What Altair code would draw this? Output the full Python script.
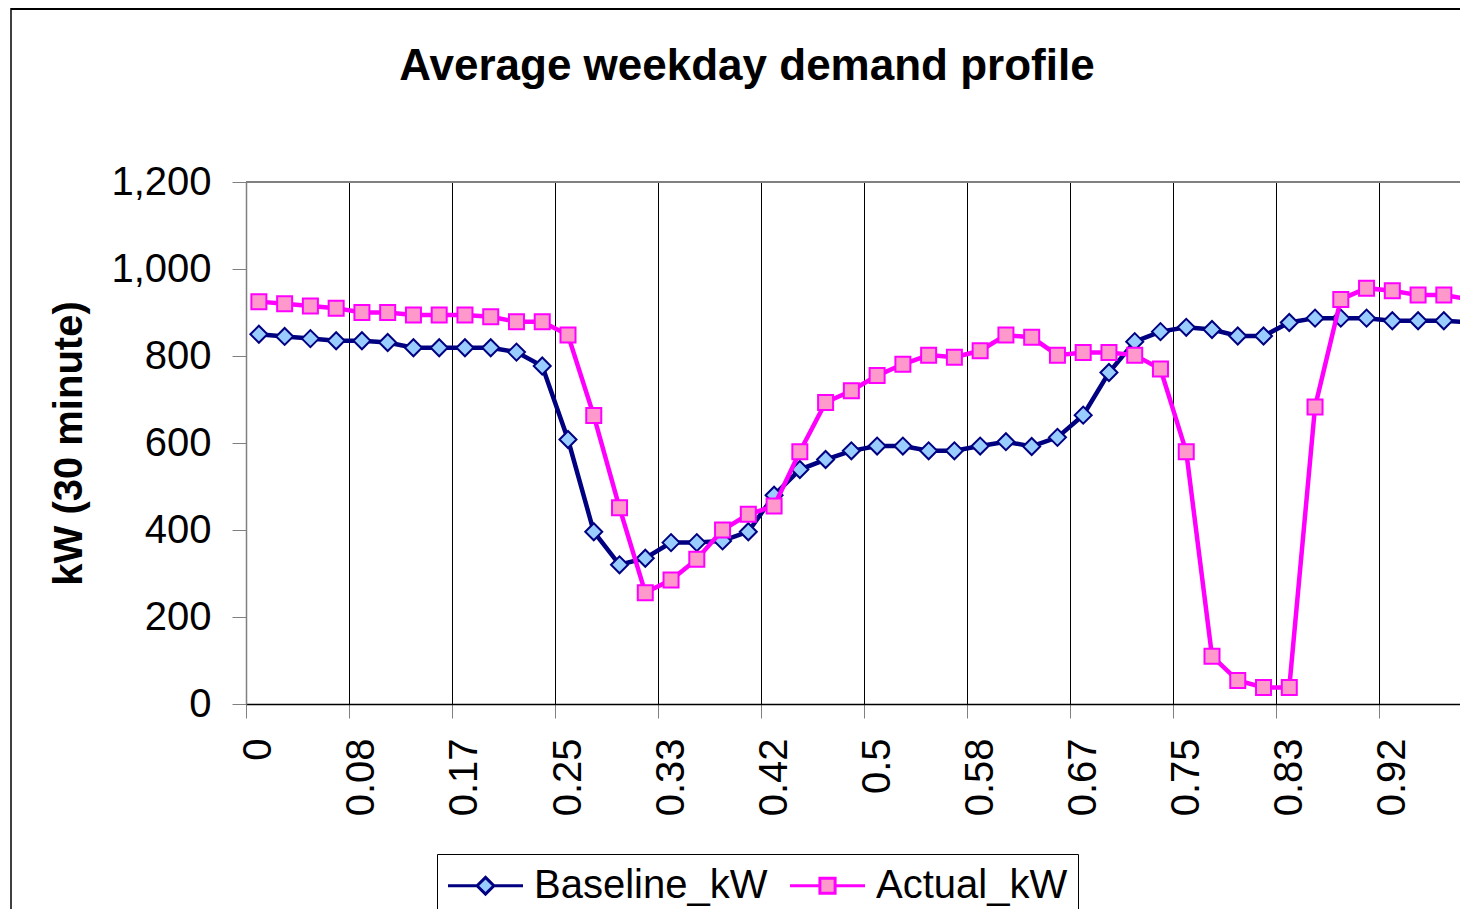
import altair as alt
import pandas as pd

FONT = "Liberation Sans"
TITLE = "Average weekday demand profile"
Y_TITLE = "kW (30 minute)"
SERIES = ["Baseline_kW", "Actual_kW"]
TICK_LABELS = ["0", "0.08", "0.17", "0.25", "0.33", "0.42", "0.5", "0.58",
               "0.67", "0.75", "0.83", "0.92"]
Y_TICKS = [0, 200, 400, 600, 800, 1000, 1200]

BASELINE = [850, 845, 840, 835, 835, 831, 819, 819, 819, 819, 809, 777,
            608, 396, 320, 335, 371, 371, 375, 396, 480, 539, 562, 582,
            593, 593, 582, 582, 593, 603, 592, 613, 664, 762, 833, 856,
            866, 861, 846, 846, 877, 887, 887, 887, 881, 881, 881, 877]
ACTUAL = [925, 920, 915, 910, 900, 900, 894, 894, 894, 890, 879, 879,
          848, 663, 451, 256, 285, 333, 400, 436, 455, 580, 693, 720,
          755, 781, 802, 797, 812, 848, 843, 802, 808, 808, 802, 770,
          580, 110, 54, 38, 38, 683, 930, 956, 950, 940, 940, 930]

NAVY, LIGHTBLUE = "#000080", "#99CCFF"
MAGENTA, PINK = "#FF00FF", "#FF99CC"

rows = []
for name, vals in zip(SERIES, [BASELINE, ACTUAL]):
    for i, v in enumerate(vals):
        rows.append({"slot": i, "kW": v, "series": name})
df = pd.DataFrame(rows)

W, H = 1214, 522
XMAX = W / 25.76

label_expr = "[" + ",".join("'%s'" % t for t in TICK_LABELS) + "][round(datum.value/4)]"

x_axis = alt.Axis(values=[4 * k for k in range(len(TICK_LABELS))], title=None,
                  grid=True, gridColor="#000000", gridWidth=1,
                  ticks=True, tickSize=14, tickColor="#808080",
                  domainColor="#000000", domainWidth=1.5,
                  labelAngle=-90, labelOffset=12.9, labelPadding=20,
                  labelFontSize=40, labelFont=FONT, labelColor="black",
                  labelFlush=False, labelOverlap=False, labelExpr=label_expr)
y_axis = alt.Axis(values=Y_TICKS, format=",d", grid=False,
                  ticks=True, tickSize=14, tickColor="#808080",
                  domainColor="#808080", domainWidth=1.5,
                  labelFontSize=40, labelFont=FONT, labelColor="black", labelPadding=21,
                  title=Y_TITLE, titleFontSize=40, titleFont=FONT, titleFontWeight="bold",
                  titleColor="black", titlePadding=21)

x_enc = alt.X("pos:Q", scale=alt.Scale(domain=[0, XMAX], nice=False, zero=False), axis=x_axis)
y_enc = alt.Y("kW:Q", scale=alt.Scale(domain=[0, 1200], nice=False), axis=y_axis)

# legend symbols: line + marker
DIA_PATH = "M-1.875,0L-0.42,0M0,-0.42L0.42,0L0,0.42L-0.42,0ZM0.42,0L1.875,0"
SQ_PATH = "M-1.875,0L-0.38,0M-0.38,-0.38L0.38,-0.38L0.38,0.38L-0.38,0.38ZM0.38,0L1.875,0"

legend = alt.Legend(
    orient="none", legendX=191, legendY=672, direction="horizontal", columns=2,
    title=None, labelFont=FONT, labelFontSize=40, labelColor="black", labelLimit=600,
    symbolSize=1600, symbolStrokeWidth=3, symbolOffset=17, labelOffset=27,
    symbolOpacity=1, columnPadding=16, padding=10, strokeColor="black", fillColor="white",
)

base = alt.Chart(df).transform_calculate(pos="datum.slot + 0.5")

def series_layers(name, shape, size, fill, stroke):
    sub = base.transform_filter(alt.datum.series == name)
    line = sub.mark_line(strokeWidth=4.5, clip=True, color=stroke).encode(x=x_enc, y=y_enc)
    pts = sub.mark_point(shape=shape, size=size, filled=True, fill=fill, stroke=stroke,
                         strokeWidth=2, opacity=1, clip=True).encode(x=x_enc, y=y_enc)
    return [line, pts]

legend_layer = base.mark_point(opacity=0, clip=True).encode(
    x=x_enc, y=y_enc,
    shape=alt.Shape("series:N", scale=alt.Scale(domain=SERIES, range=[DIA_PATH, SQ_PATH]), legend=legend),
    fill=alt.Fill("series:N", scale=alt.Scale(domain=SERIES, range=[LIGHTBLUE, PINK]), legend=legend),
    stroke=alt.Stroke("series:N", scale=alt.Scale(domain=SERIES, range=[NAVY, MAGENTA]), legend=legend),
)

deco = alt.Chart(pd.DataFrame({"t": [TITLE]}))
title = deco.mark_text(align="center", baseline="alphabetic", fontSize=44,
                       fontWeight="bold", font=FONT, color="black").encode(
    x=alt.value(501), y=alt.value(-102), text="t:N")
border_left = deco.mark_rule(color="black", strokeWidth=1.5).encode(
    x=alt.value(-235), y=alt.value(-174), y2=alt.value(740))
border_top = deco.mark_rule(color="black", strokeWidth=2).encode(
    x=alt.value(-235), x2=alt.value(W), y=alt.value(-173))
plot_top = deco.mark_rule(color="#808080", strokeWidth=2).encode(
    x=alt.value(0), x2=alt.value(W), y=alt.value(0))

layers = (series_layers("Baseline_kW", "diamond", 289, LIGHTBLUE, NAVY)
          + series_layers("Actual_kW", "square", 225, PINK, MAGENTA))

chart = alt.layer(plot_top, legend_layer, *layers, title, border_left, border_top).properties(
    width=W, height=H,
    padding={"left": 238, "top": 174, "right": 0, "bottom": 205},
    autosize=alt.AutoSizeParams(type="none"),
    background="white",
).configure_view(stroke=None)

chart.save("out.html", embed_options={"renderer": "svg", "actions": False})
